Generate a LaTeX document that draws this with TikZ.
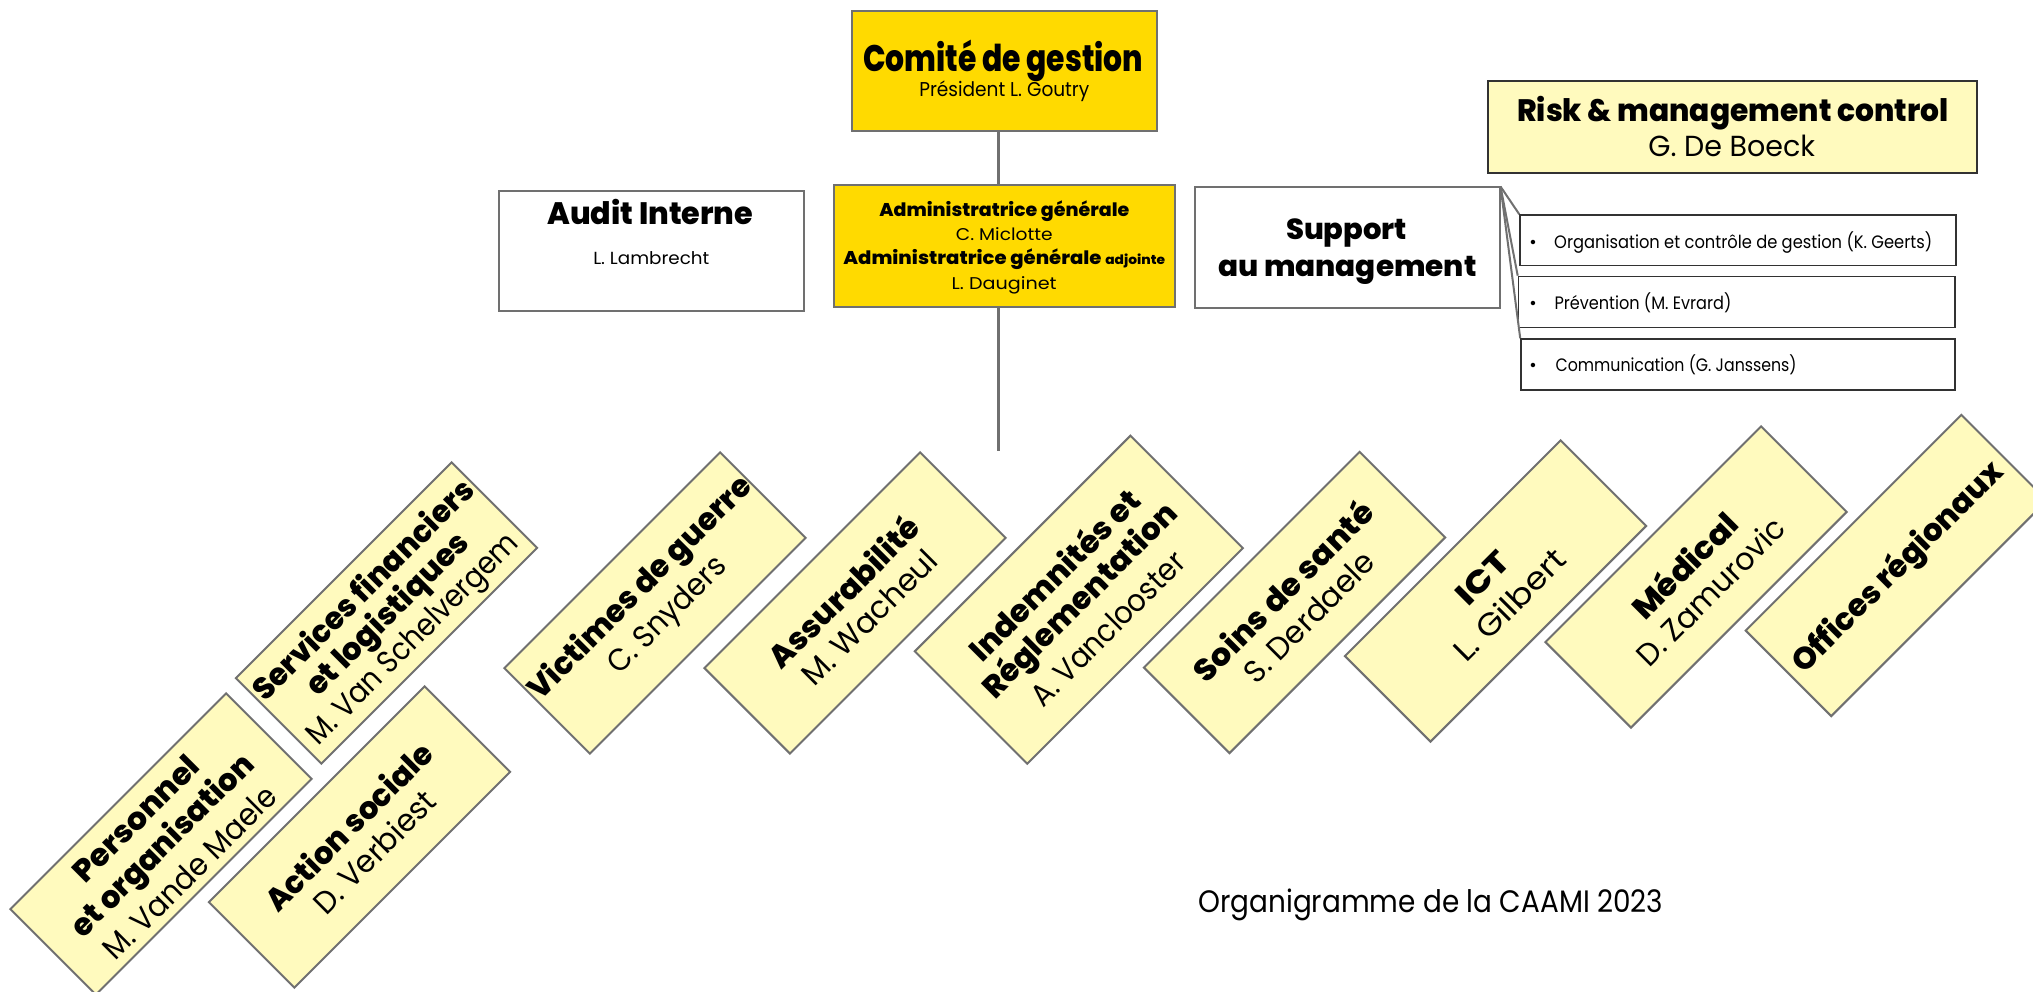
\documentclass[tikz,border=0pt]{standalone}
\usepackage{fontspec}
\IfFontExistsTF{Poppins ExtraBold}{\setmainfont{Poppins}[BoldFont={Poppins ExtraBold}]}{\setmainfont{Poppins}}
\usetikzlibrary{calc}
\definecolor{gold}{RGB}{255,218,0}
\definecolor{pale}{RGB}{255,250,190}
\definecolor{edge}{RGB}{112,112,112}
\definecolor{dark}{RGB}{50,50,50}
\newcommand\fx[2]{\resizebox{#1pt}{\height}{#2}}
\newcommand\rl[4]{\node[rtext] (#1) at ($(#2)+({-0.7071*(#3)},{-0.7071*(#3)})$) {#4};}
\begin{document}
\begin{tikzpicture}[x=1pt,y=-1pt,
  ubox/.style={draw=edge, line width=2pt, inner sep=0pt},
  rbox/.style={draw=edge, line width=2pt, fill=pale, rotate=45, minimum width=305pt, minimum height=121pt, inner sep=0pt},
  txt/.style={inner sep=0pt, anchor=base},
  rtext/.style={inner sep=0pt, rotate=45},
  conn/.style={draw=edge, line width=3pt},
  fan/.style={draw=edge, line width=2pt}]
\useasboundingbox (0,0) rectangle (2033,992);
\fill[white] (0,0) rectangle (2033,992);
\clip (0,0) rectangle (2033,992);

% upright boxes
\node[ubox, fill=gold, minimum width=305pt, minimum height=120.5pt] (comite) at (1004.5,71.25) {};
\node[ubox, fill=gold, minimum width=340.5pt, minimum height=121pt] (admin) at (1004.25,246) {};
\node[ubox, fill=white, minimum width=305pt, minimum height=119pt] (audit) at (651.5,251) {};
\node[ubox, fill=white, minimum width=304.5pt, minimum height=120.5pt] (support) at (1347.25,247.75) {};
\node[ubox, draw=dark, fill=pale, minimum width=489pt, minimum height=92pt] (risk) at (1732.5,127) {};
\node[ubox, draw=dark, line width=1.6pt, fill=white, minimum width=436pt, minimum height=50.5pt] (org) at (1738,240.25) {};
\node[ubox, draw=dark, line width=1.6pt, fill=white, minimum width=436.5pt, minimum height=51pt] (prev) at (1736.75,302) {};
\node[ubox, draw=dark, line width=1.6pt, fill=white, minimum width=434pt, minimum height=51pt] (comm) at (1738,364.5) {};

% connectors
\coordinate (stem) at (998.3,451);
\draw[conn] (comite.south -| 998.3,0) -- (admin.north -| 998.3,0);
\draw[conn] (admin.south -| 998.3,0) -- (stem);
\draw[fan] (support.north east) -- (org.north west);
\draw[fan] (support.north east) -- (prev.north west);
\draw[fan] (support.north east) -- (comm.north west);

% upright texts
\node[txt, font=\fontsize{37}{43}\selectfont\bfseries] (tcom) at (1003.3,71.7) {\fx{280}{Comité de gestion}};
\node[txt, font=\fontsize{20}{24}\selectfont] (tpres) at (1004.3,96.7) {\fx{170}{Président L. Goutry}};
\node[txt, font=\fontsize{18.5}{22}\selectfont\bfseries] (tad1) at (1004.3,216.7) {\fx{250}{Administratrice générale}};
\node[txt, font=\fontsize{17}{20}\selectfont] (tad2) at (1004.3,240.7) {\fx{96.7}{C. Miclotte}};
\node[txt, font=\fontsize{18.5}{22}\selectfont\bfseries] (tad3) at (1004.2,265) {\fx{321.7}{Administratrice générale {\fontsize{13}{15}\selectfont adjointe}}};
\node[txt, font=\fontsize{17}{20}\selectfont] (tad4) at (1004.2,289.3) {\fx{105}{L. Dauginet}};
\node[txt, font=\fontsize{31}{37}\selectfont\bfseries] (taud) at (650.3,225) {\fx{206}{Audit Interne}};
\node[txt, font=\fontsize{17.5}{21}\selectfont] (tlam) at (651.3,264) {\fx{116}{L. Lambrecht}};
\node[txt, font=\fontsize{29}{34}\selectfont\bfseries] (tsup1) at (1346.5,240) {\fx{121}{Support}};
\node[txt, font=\fontsize{29}{34}\selectfont\bfseries] (tsup2) at (1347.3,276.7) {\fx{258.5}{au management}};
\node[txt, font=\fontsize{31}{37}\selectfont\bfseries] (trisk) at (1732.8,121.7) {\fx{431}{Risk \& management control}};
\node[txt, font=\fontsize{29}{35}\selectfont] (tboeck) at (1731.7,156.7) {\fx{166.7}{G. De Boeck}};
\node[txt, font=\fontsize{18}{22}\selectfont] (b1) at (1533,248.3) {•};
\node[txt, anchor=base west, font=\fontsize{18}{22}\selectfont] (torg) at (1554,248.3) {\fx{378}{Organisation et contrôle de gestion (K. Geerts)}};
\node[txt, font=\fontsize{18}{22}\selectfont] (b2) at (1533,309.3) {•};
\node[txt, anchor=base west, font=\fontsize{18}{22}\selectfont] (tprev) at (1554.3,309.3) {\fx{176.8}{Prévention (M. Evrard)}};
\node[txt, font=\fontsize{18}{22}\selectfont] (b3) at (1533,371.7) {•};
\node[txt, anchor=base west, font=\fontsize{18}{22}\selectfont] (tcomm) at (1555.4,371.7) {\fx{241}{Communication (G. Janssens)}};
\node[txt, font=\fontsize{31}{37}\selectfont] (tcap) at (1430.8,912.7) {\fx{465}{Organigramme de la CAAMI 2023}};

% rotated boxes
\node[rbox] (pers) at (161,844) {};
\node[rbox] (sfl) at (386.5,613) {};
\node[rbox] (asoc) at (359.5,837) {};
\node[rbox] (vict) at (655,603) {};
\node[rbox] (assu) at (855,603) {};
\node[rbox, minimum height=159pt] (indem) at (1078.8,599.7) {};
\node[rbox] (soins) at (1294.5,602.5) {};
\node[rbox] (ict) at (1495.5,591) {};
\node[rbox] (medi) at (1696,577) {};
\node[rbox] (offi) at (1896.3,565.5) {};

% rotated texts
\tikzset{rtext/.append style={font=\fontsize{31}{36}\selectfont}}
\rl{p1}{pers}{36}{\bfseries\fx{164.8}{Personnel}}
\rl{p2}{pers}{-4}{\bfseries\fx{244}{et organisation}}
\rl{p3}{pers}{-40}{\fx{230.5}{M. Vande Maele}}
\rl{s1}{sfl}{34.6}{\bfseries\fx{297.7}{Services financiers}}
\rl{s2}{sfl}{-3.2}{\bfseries\fx{215.7}{et logistiques}}
\rl{s3}{sfl}{-39.2}{\fx{285}{M. Van Schelvergem}}
\rl{a1}{asoc}{15.9}{\bfseries\fx{222.7}{Action sociale}}
\rl{a2}{asoc}{-20.8}{\fx{159}{D. Verbiest}}
\rl{v1}{vict}{20}{\bfseries\fx{301.7}{Victimes de guerre}}
\rl{v2}{vict}{-19.1}{\fx{153}{C. Snyders}}
\rl{u1}{assu}{16.9}{\bfseries\fx{199}{Assurabilité}}
\rl{u2}{assu}{-20.3}{\fx{176.8}{M. Wacheul}}
\rl{i1}{indem}{36}{\bfseries\fx{227.4}{Indemnités et}}
\rl{i2}{indem}{-2.8}{\bfseries\fx{260.4}{Réglementation}}
\rl{i3}{indem}{-40.6}{\fx{203.9}{A. Vanclooster}}
\rl{o1}{soins}{17.3}{\bfseries\fx{239.2}{Soins de santé}}
\rl{o2}{soins}{-20.4}{\fx{170.8}{S. Derdaele}}
\rl{c1}{ict}{18.3}{\bfseries\fx{60.7}{ICT}}
\rl{c2}{ict}{-19.4}{\fx{144.2}{L. Gilbert}}
\rl{m1}{medi}{17.3}{\bfseries\fx{135.5}{Médical}}
\rl{m2}{medi}{-20.3}{\fx{195.9}{D. Zamurovic}}
\rl{r1}{offi}{-3}{\bfseries\fx{284.4}{Offices régionaux}}
\end{tikzpicture}
\end{document}
